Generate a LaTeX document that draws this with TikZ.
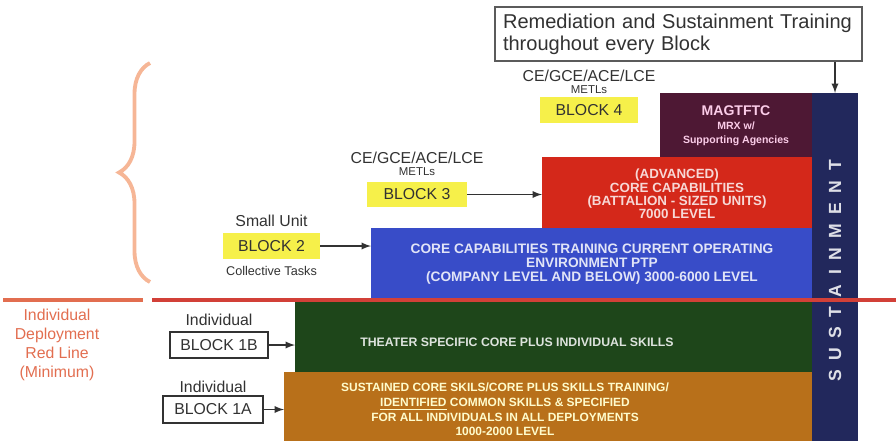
\documentclass[tikz,border=0pt]{standalone}
\usepackage{fontspec}
\setmainfont{Liberation Sans}
\usepackage{tikz}
\usetikzlibrary{positioning}
\usetikzlibrary{decorations.pathreplacing}
\usepackage{xcolor}
\definecolor{magtfred}{RGB}{78,24,52}
\definecolor{advred}{RGB}{212,40,26}
\definecolor{coreblue}{RGB}{56,76,200}
\definecolor{theatergreen}{RGB}{30,70,26}
\definecolor{sustorange}{RGB}{184,112,26}
\definecolor{sustnavy}{RGB}{34,40,92}
\definecolor{tagyellow}{RGB}{246,240,74}
\definecolor{redline}{RGB}{210,64,56}
\definecolor{bracecol}{RGB}{246,182,150}
\definecolor{minred}{RGB}{226,110,80}
\definecolor{labelgray}{RGB}{50,50,50}

\tikzset{
  barbox/.style={inner sep=0pt, outer sep=0pt},
  bartext/.style={font=\bfseries, align=center, inner sep=0pt},
  yellowtag/.style={fill=tagyellow, minimum width=1.96cm, minimum height=0.52cm,
    inner sep=0pt, font=\fontsize{9}{10}\selectfont, text=labelgray},
  whitetag/.style={draw=labelgray, line width=0.9pt, fill=white, minimum width=1.96cm,
    minimum height=0.52cm, inner sep=0pt, font=\fontsize{9}{10}\selectfont, text=labelgray},
  smalllabel/.style={font=\fontsize{9}{10}\selectfont, text=labelgray, inner sep=1pt},
  tinylabel/.style={font=\fontsize{6.5}{7}\selectfont, text=labelgray, inner sep=1pt},
  tagarrow/.style={->, draw=labelgray, line width=0.3mm},
}

\begin{document}
\begin{tikzpicture}[x=0.02cm, y=-0.02cm, >=latex]
\useasboundingbox (0,0) rectangle (896,441);

%B4: MAGTFTC
\node[barbox, fill=magtfred, minimum width=3.04cm, minimum height=1.28cm] (magtf) at (736,125) {};
\node[bartext, text=white!80!magenta, font=\fontsize{6}{8}\selectfont\bfseries] (magtftext) at (736,126)
  {\fontsize{8}{8}\selectfont MAGTFTC\\ MRX w/\\ Supporting Agencies};

%B3: advanced core capabilities
\node[barbox, fill=advred, minimum width=5.4cm, minimum height=1.42cm] (adv) at (677,192.5) {};
\node[bartext, text=white!82!advred, font=\fontsize{7.6}{7.6}\selectfont\bfseries] (advtext) at (677,194)
  {(ADVANCED)\\CORE CAPABILITIES\\(BATTALION - SIZED UNITS)\\7000 LEVEL};

%B2: core capabilities
\node[barbox, fill=coreblue, minimum width=8.82cm, minimum height=1.44cm] (core) at (591.5,264) {};
\node[bartext, text=white!85!coreblue, font=\fontsize{7.8}{8}\selectfont\bfseries] (coretext) at (592,264)
  {CORE CAPABILITIES TRAINING CURRENT OPERATING\\ENVIRONMENT PTP\\(COMPANY LEVEL AND BELOW) 3000-6000 LEVEL};

%B1B: theater specific
\node[barbox, fill=theatergreen, minimum width=10.34cm, minimum height=1.44cm] (theater) at (553.5,336) {};
\node[bartext, text=white!85!theatergreen, font=\fontsize{7}{8}\selectfont\bfseries] (theatertext) at (517,342)
  {THEATER SPECIFIC CORE PLUS INDIVIDUAL SKILLS};

%B1A: sustained core skills
\node[barbox, fill=sustorange, minimum width=10.56cm, minimum height=1.38cm] (sustained) at (548,406.5) {};
\node[bartext, text=white!80!yellow, font=\fontsize{6.8}{8.4}\selectfont\bfseries] (sustainedtext) at (505,409.5)
  {SUSTAINED CORE SKILS/CORE PLUS SKILLS TRAINING/\\\underline{IDENTIFIED} COMMON SKILLS \& SPECIFIED\\
   FOR ALL INDIVIDUALS IN ALL DEPLOYMENTS\\1000-2000 LEVEL};

%S: sustainment column
\node[barbox, fill=sustnavy, minimum width=0.92cm, minimum height=6.96cm] (sust) at (835,267) {};
\node[rotate=90, text=white!85!sustnavy, font=\fontsize{10}{10}\selectfont\bfseries] (susttext) at (835,271)
  {S\hspace{5.4pt}U\hspace{5.4pt}S\hspace{5.4pt}T\hspace{5.4pt}A\hspace{5.4pt}I\hspace{5.4pt}N\hspace{5.4pt}M\hspace{5.4pt}E\hspace{5.4pt}N\hspace{5.4pt}T};

% remediation callout
\node[draw=labelgray!80, line width=0.9pt, fill=white, inner xsep=0.16cm, inner ysep=0pt,
      text width=7.02cm, minimum height=1.08cm, align=left, text=labelgray,
      font=\fontsize{11.4}{12.6}\selectfont] (remed) at (678.5,34)
  {Remediation and Sustainment Training\\throughout every Block};

% block tags
\node[yellowtag] (b4) at (589,110) {BLOCK 4};
\node[tinylabel, above=0.5pt of b4] (metls4) {METLs};
\node[smalllabel, above=0pt of metls4] (ce4) {CE/GCE/ACE/LCE};

\node[yellowtag, minimum width=2cm, minimum height=0.5cm] (b3) at (417,194.5) {BLOCK 3};
\node[tinylabel, above=2pt of b3] (metls3) {METLs};
\node[smalllabel, above=0pt of metls3] (ce3) {CE/GCE/ACE/LCE};

\node[yellowtag, minimum width=1.94cm] (b2) at (271.5,246) {BLOCK 2};
\node[smalllabel, above=2pt of b2] (smallunit) {Small Unit};
\node[smalllabel, below=3pt of b2, font=\fontsize{7.2}{8}\selectfont] (colltasks) {Collective Tasks};

\node[whitetag] (b1b) at (219,345) {BLOCK 1B};
\node[smalllabel, above=2pt of b1b] (indiv1b) {Individual};

\node[whitetag, minimum width=2cm, minimum height=0.54cm] (b1a) at (213,409.5) {BLOCK 1A};
\node[smalllabel, above=0.5pt of b1a] (indiv1a) {Individual};

% red line and brace
\node[align=center, text=minred, font=\fontsize{9}{10.8}\selectfont] (redlinetext) at (57,345)
  {Individual\\Deployment\\Red Line\\(Minimum)};
\draw[decorate, decoration={brace, amplitude=0.62cm}, draw=bracecol, line width=2.2pt]
  (150,282) -- (150,63);
\draw[draw=minred, line width=2pt] (3,300) -- (143,300);
\draw[draw=redline, line width=1.8pt] (152,300) -- (896,300);

% arrows
\path
  (b3.east) edge[tagarrow] (b3.east -| adv.west)
  (b2.east) edge[tagarrow] (b2.east -| core.west)
  (b1b.east) edge[tagarrow] (b1b.east -| theater.west)
  (b1a.east) edge[tagarrow] (b1a.east -| sustained.west)
  (remed.south -| sust.north) edge[tagarrow] (sust.north)
;
\end{tikzpicture}
\end{document}
